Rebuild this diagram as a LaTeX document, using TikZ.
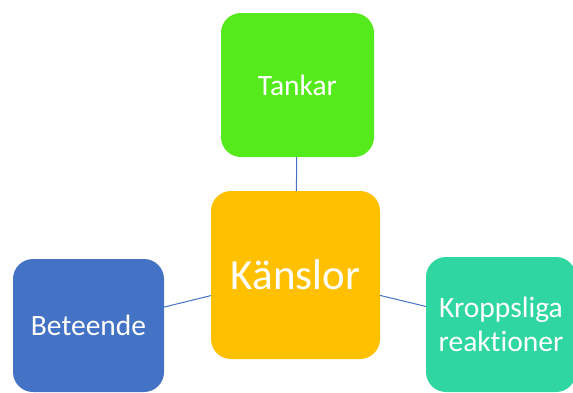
\documentclass[tikz,border=0pt]{standalone}
\usepackage{fontspec}
\setmainfont{Carlito}[Ligatures=NoCommon]
\definecolor{tgreen}{RGB}{85,234,28}
\definecolor{korange}{RGB}{255,192,0}
\definecolor{bblue}{RGB}{68,114,196}
\definecolor{kteal}{RGB}{48,214,160}
\definecolor{linkblue}{RGB}{68,114,196}
\tikzset{
  box/.style={rectangle, rounded corners=20pt, inner sep=0pt, outer sep=0pt, text=white, align=center, font=\fontsize{29.5}{34}\selectfont},
  link/.style={draw=linkblue, line width=1pt}
}
\begin{document}
\begin{tikzpicture}[x=1pt,y=-1pt]
\useasboundingbox (0,0) rectangle (573,392);
\clip (0,0) rectangle (573,392);
\node[box, fill=tgreen, minimum width=153pt, minimum height=144pt] (tankar) at (297.5,85) {Tankar};
\node[box, fill=korange, minimum width=169pt, minimum height=168pt, font=\fontsize{43}{48}\selectfont] (kanslor) at (295.5,275) {Känslor};
\node[box, fill=bblue, minimum width=151pt, minimum height=133pt] (beteende) at (88.5,325.5) {Beteende};
\node[box, fill=kteal, minimum width=150pt, minimum height=135pt] (kropp) at (501,324.5) {Kroppsliga\\reaktioner};
\draw[link] (tankar) -- (kanslor);
\draw[link] (beteende) -- (kanslor);
\draw[link] (kanslor) -- (kropp);
\end{tikzpicture}
\end{document}
